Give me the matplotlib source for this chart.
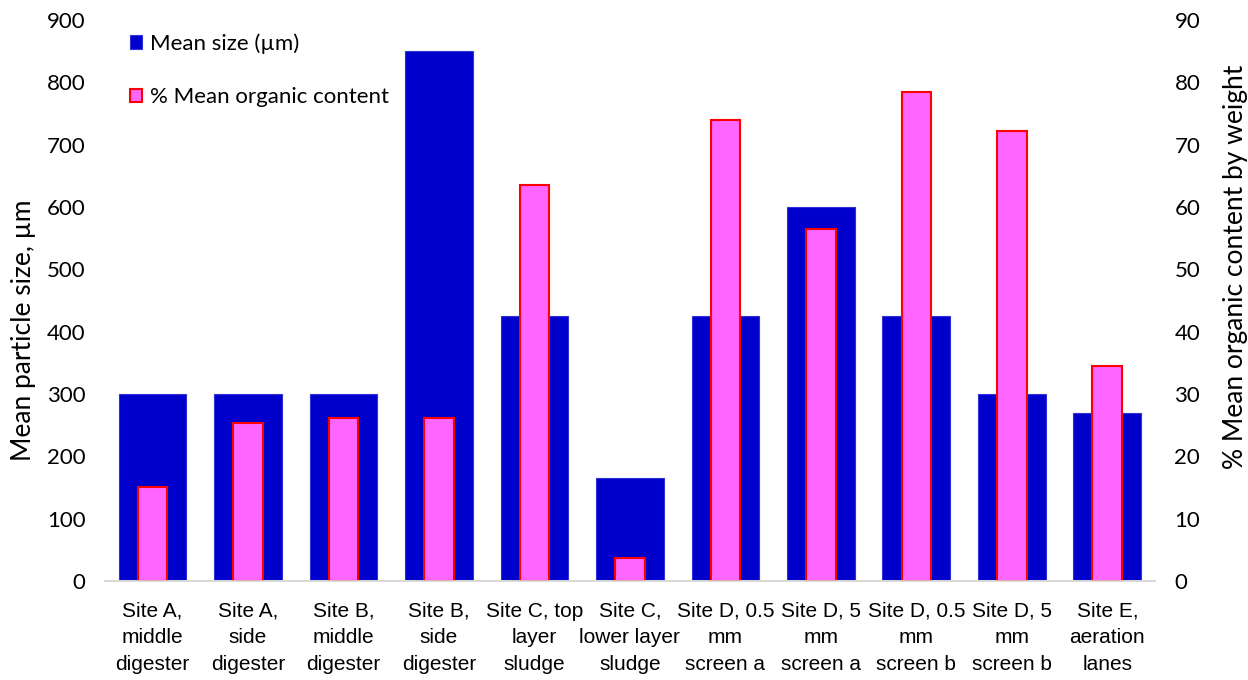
import matplotlib
matplotlib.use("Agg")
import matplotlib.pyplot as plt
import numpy as np

## Data
sites = ["Site A,\nmiddle\ndigester", "Site A,\nside\ndigester", "Site B,\nmiddle\ndigester",
         "Site B,\nside\ndigester", "Site C, top\nlayer\nsludge", "Site C,\nlower layer\nsludge",
         "Site D, 0.5\nmm\nscreen a", "Site D, 5\nmm\nscreen a", "Site D, 0.5\nmm\nscreen b",
         "Site D, 5\nmm\nscreen b", "Site E,\naeration\nlanes"]
mean_size = [300, 300, 300, 850, 425, 165, 425, 600, 425, 300, 270]
organic_pct = [15, 25.3, 26.1, 26.1, 63.5, 3.7, 74.0, 56.5, 78.5, 72.2, 34.5]

tick_font = ["Lato", "DejaVu Sans"]
cat_font = ["Liberation Sans Narrow", "Liberation Sans", "DejaVu Sans"]

fig = plt.figure(figsize=(12.48, 6.8), dpi=100)
ax1 = fig.add_axes([0.084, 0.1456, 0.8415, 0.825])
ax2 = ax1.twinx()

x = np.arange(len(sites))
b1 = ax1.bar(x, mean_size, width=0.71, color="#0000CC", edgecolor="#3030D8",
             linewidth=0.8, label="Mean size (µm)")
b2 = ax2.bar(x, organic_pct, width=0.31, color="#FF66FF", edgecolor="#FF0000",
             linewidth=1.5, label="% Mean organic content")

ax1.set_xlim(-0.5, len(sites) - 0.5)
ax1.set_ylim(0, 900)
ax2.set_ylim(0, 90)
ax1.set_yticks(np.arange(0, 901, 100))
ax2.set_yticks(np.arange(0, 91, 10))

for ax in (ax1, ax2):
    for s in ("top", "left", "right"):
        ax.spines[s].set_visible(False)
    ax.spines["bottom"].set_color("#D9D9D9")
    ax.spines["bottom"].set_linewidth(1.2)
    ax.tick_params(axis="y", length=0, labelsize=16, pad=14)
    for lab in ax.get_yticklabels():
        lab.set_family(tick_font)

ax1.set_xticks(x)
ax1.set_xticklabels(sites, fontsize=15, family=cat_font, linespacing=1.5)
ax1.tick_params(axis="x", length=0, pad=15)

ax1.set_ylabel("Mean particle size, µm", fontsize=19, family=tick_font, labelpad=8)
ax2.set_ylabel("% Mean organic content by weight", fontsize=19, family=tick_font, labelpad=16)
# excel put the two titles a bit off centre
ax1.yaxis.label.set_y(0.447)
ax2.yaxis.label.set_y(0.56)

leg = ax2.legend([b1, b2], ["Mean size (µm)", "% Mean organic content"],
                 loc="upper left", bbox_to_anchor=(0.005, 1.012), frameon=False,
                 handlelength=0.55, handleheight=0.55,
                 handletextpad=0.35, labelspacing=1.5, prop={"family": tick_font, "size": 16})

fig.savefig("out.png", dpi=100)
